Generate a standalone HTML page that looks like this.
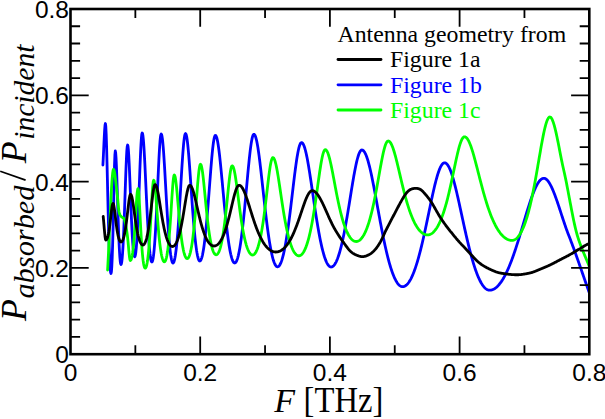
<!DOCTYPE html>
<html><head><meta charset="utf-8"><style>
html,body{margin:0;padding:0;background:#fff;width:605px;height:419px;overflow:hidden}
svg{display:block}
.sans{font-family:"Liberation Sans",sans-serif}
.serif{font-family:"Liberation Serif",serif}
</style></head><body>
<svg width="605" height="419" viewBox="0 0 605 419">
<rect width="605" height="419" fill="#fff"/>
<defs><clipPath id="c"><rect x="70.5" y="9.0" width="518.8" height="345.2"/></clipPath></defs>
<g clip-path="url(#c)" fill="none" stroke-width="2.8" stroke-linejoin="round" stroke-linecap="round">
<path stroke="#0000ff" d="M102.90,165.00 L103.26,158.35 L103.61,150.72 L103.97,142.86 L104.33,135.48 L104.69,129.31 L105.04,125.07 L105.40,123.50 L105.80,126.30 L106.20,134.37 L106.60,146.77 L107.00,162.21 L107.40,179.29 L107.80,196.73 L108.20,213.50 L108.60,228.84 L109.00,242.25 L109.40,253.41 L109.80,262.18 L110.20,268.47 L110.60,272.24 L111.00,273.50 L111.39,271.83 L111.78,266.84 L112.17,258.55 L112.56,247.05 L112.95,232.64 L113.35,215.89 L113.74,197.86 L114.13,180.19 L114.52,165.03 L114.91,154.68 L115.30,151.00 L115.68,152.85 L116.06,158.20 L116.44,166.52 L116.82,177.01 L117.20,188.83 L117.58,201.16 L117.96,213.28 L118.34,224.68 L118.72,234.96 L119.10,243.86 L119.48,251.25 L119.86,257.04 L120.24,261.18 L120.62,263.67 L121.00,264.50 L121.39,263.82 L121.78,261.78 L122.16,258.38 L122.55,253.63 L122.94,247.55 L123.33,240.17 L123.72,231.58 L124.11,221.90 L124.49,211.31 L124.88,200.09 L125.27,188.63 L125.66,177.40 L126.05,166.96 L126.44,157.94 L126.82,150.95 L127.21,146.52 L127.60,145.00 L127.99,146.27 L128.39,149.98 L128.78,155.87 L129.18,163.53 L129.57,172.50 L129.97,182.27 L130.36,192.38 L130.76,202.43 L131.15,212.08 L131.54,221.09 L131.94,229.26 L132.33,236.47 L132.73,242.65 L133.12,247.73 L133.52,251.69 L133.91,254.53 L134.31,256.23 L134.70,256.80 L135.09,256.24 L135.49,254.54 L135.88,251.72 L136.28,247.78 L136.67,242.73 L137.07,236.58 L137.46,229.38 L137.86,221.19 L138.25,212.11 L138.65,202.29 L139.04,191.94 L139.44,181.32 L139.83,170.79 L140.23,160.73 L140.62,151.60 L141.02,143.86 L141.41,137.96 L141.81,134.26 L142.20,133.00 L142.59,133.76 L142.98,136.02 L143.36,139.68 L143.75,144.61 L144.14,150.64 L144.53,157.56 L144.92,165.16 L145.30,173.24 L145.69,181.58 L146.08,190.01 L146.47,198.35 L146.86,206.46 L147.24,214.24 L147.63,221.58 L148.02,228.42 L148.41,234.70 L148.80,240.37 L149.18,245.41 L149.57,249.79 L149.96,253.52 L150.35,256.57 L150.74,258.94 L151.12,260.64 L151.51,261.66 L151.90,262.00 L152.29,261.63 L152.68,260.54 L153.06,258.71 L153.45,256.15 L153.84,252.87 L154.22,248.86 L154.61,244.14 L155.00,238.73 L155.39,232.64 L155.78,225.92 L156.16,218.62 L156.55,210.80 L156.94,202.57 L157.32,194.03 L157.71,185.34 L158.10,176.67 L158.49,168.21 L158.88,160.20 L159.26,152.86 L159.65,146.44 L160.04,141.17 L160.42,137.24 L160.81,134.82 L161.20,134.00 L161.59,134.53 L161.99,136.10 L162.38,138.68 L162.77,142.19 L163.17,146.54 L163.56,151.64 L163.95,157.35 L164.35,163.57 L164.74,170.16 L165.13,177.00 L165.53,183.98 L165.92,191.01 L166.31,197.97 L166.71,204.79 L167.10,211.40 L167.49,217.74 L167.89,223.76 L168.28,229.42 L168.67,234.69 L169.07,239.55 L169.46,243.97 L169.85,247.94 L170.25,251.46 L170.64,254.52 L171.03,257.11 L171.43,259.23 L171.82,260.88 L172.21,262.06 L172.61,262.76 L173.00,263.00 L173.39,262.79 L173.78,262.17 L174.17,261.13 L174.56,259.67 L174.95,257.80 L175.34,255.52 L175.73,252.82 L176.12,249.72 L176.52,246.21 L176.91,242.30 L177.30,238.00 L177.69,233.32 L178.08,228.28 L178.47,222.90 L178.86,217.21 L179.25,211.24 L179.64,205.03 L180.03,198.63 L180.42,192.10 L180.81,185.50 L181.20,178.91 L181.59,172.42 L181.98,166.11 L182.38,160.09 L182.77,154.45 L183.16,149.29 L183.55,144.73 L183.94,140.85 L184.33,137.73 L184.72,135.46 L185.11,134.07 L185.50,133.60 L185.90,133.96 L186.29,135.05 L186.69,136.83 L187.09,139.28 L187.49,142.35 L187.88,145.99 L188.28,150.13 L188.68,154.72 L189.07,159.68 L189.47,164.93 L189.87,170.42 L190.27,176.07 L190.66,181.81 L191.06,187.59 L191.46,193.35 L191.86,199.04 L192.25,204.62 L192.65,210.04 L193.05,215.28 L193.44,220.30 L193.84,225.09 L194.24,229.62 L194.64,233.87 L195.03,237.84 L195.43,241.51 L195.83,244.87 L196.23,247.92 L196.62,250.66 L197.02,253.08 L197.42,255.18 L197.81,256.96 L198.21,258.41 L198.61,259.54 L199.01,260.35 L199.40,260.84 L199.80,261.00 L200.20,260.86 L200.60,260.46 L201.00,259.78 L201.40,258.83 L201.80,257.60 L202.20,256.11 L202.60,254.35 L203.00,252.31 L203.40,250.01 L203.80,247.44 L204.20,244.61 L204.60,241.51 L205.00,238.16 L205.40,234.56 L205.80,230.72 L206.20,226.65 L206.60,222.36 L207.00,217.86 L207.40,213.17 L207.80,208.31 L208.20,203.31 L208.60,198.20 L209.00,193.00 L209.40,187.75 L209.80,182.49 L210.20,177.27 L210.60,172.12 L211.00,167.11 L211.40,162.28 L211.80,157.69 L212.20,153.39 L212.60,149.44 L213.00,145.89 L213.40,142.79 L213.80,140.19 L214.20,138.12 L214.60,136.62 L215.00,135.71 L215.40,135.40 L215.79,135.60 L216.19,136.18 L216.58,137.16 L216.98,138.50 L217.37,140.21 L217.76,142.27 L218.16,144.65 L218.55,147.33 L218.94,150.29 L219.34,153.51 L219.73,156.94 L220.13,160.58 L220.52,164.39 L220.91,168.33 L221.31,172.39 L221.70,176.54 L222.10,180.74 L222.49,184.98 L222.88,189.24 L223.28,193.48 L223.67,197.70 L224.07,201.86 L224.46,205.96 L224.85,209.98 L225.25,213.91 L225.64,217.73 L226.03,221.43 L226.43,225.01 L226.82,228.45 L227.22,231.75 L227.61,234.90 L228.00,237.89 L228.40,240.73 L228.79,243.40 L229.19,245.91 L229.58,248.26 L229.97,250.43 L230.37,252.43 L230.76,254.26 L231.16,255.92 L231.55,257.41 L231.94,258.72 L232.34,259.85 L232.73,260.81 L233.12,261.60 L233.52,262.21 L233.91,262.65 L234.31,262.91 L234.70,263.00 L235.09,262.91 L235.48,262.65 L235.88,262.21 L236.27,261.59 L236.66,260.80 L237.05,259.83 L237.44,258.68 L237.83,257.36 L238.23,255.86 L238.62,254.19 L239.01,252.34 L239.40,250.32 L239.79,248.13 L240.19,245.77 L240.58,243.23 L240.97,240.54 L241.36,237.67 L241.75,234.65 L242.14,231.48 L242.54,228.15 L242.93,224.68 L243.32,221.07 L243.71,217.34 L244.10,213.49 L244.50,209.53 L244.89,205.47 L245.28,201.34 L245.67,197.13 L246.06,192.88 L246.46,188.60 L246.85,184.31 L247.24,180.03 L247.63,175.79 L248.02,171.61 L248.41,167.52 L248.81,163.54 L249.20,159.70 L249.59,156.03 L249.98,152.56 L250.37,149.32 L250.77,146.33 L251.16,143.63 L251.55,141.23 L251.94,139.16 L252.33,137.43 L252.72,136.07 L253.12,135.09 L253.51,134.50 L253.90,134.30 L254.30,134.44 L254.70,134.86 L255.10,135.56 L255.50,136.53 L255.90,137.77 L256.30,139.27 L256.70,141.01 L257.10,142.99 L257.50,145.19 L257.90,147.60 L258.30,150.20 L258.70,152.98 L259.10,155.93 L259.50,159.02 L259.90,162.24 L260.30,165.57 L260.70,168.99 L261.10,172.50 L261.50,176.06 L261.90,179.68 L262.30,183.32 L262.70,186.99 L263.10,190.65 L263.50,194.31 L263.90,197.95 L264.30,201.56 L264.70,205.13 L265.10,208.64 L265.50,212.10 L265.90,215.48 L266.30,218.79 L266.70,222.02 L267.10,225.16 L267.50,228.21 L267.90,231.16 L268.30,234.00 L268.70,236.74 L269.10,239.38 L269.50,241.89 L269.90,244.30 L270.30,246.59 L270.70,248.76 L271.10,250.81 L271.50,252.74 L271.90,254.54 L272.30,256.23 L272.70,257.79 L273.10,259.23 L273.50,260.54 L273.90,261.73 L274.30,262.79 L274.70,263.73 L275.10,264.55 L275.50,265.23 L275.90,265.80 L276.30,266.24 L276.70,266.55 L277.10,266.74 L277.50,266.80 L277.90,266.74 L278.30,266.57 L278.70,266.29 L279.10,265.89 L279.50,265.38 L279.90,264.76 L280.30,264.02 L280.70,263.17 L281.10,262.20 L281.50,261.13 L281.90,259.94 L282.30,258.63 L282.70,257.22 L283.10,255.69 L283.50,254.05 L283.90,252.30 L284.30,250.44 L284.70,248.48 L285.10,246.40 L285.50,244.22 L285.90,241.93 L286.30,239.54 L286.70,237.06 L287.10,234.47 L287.50,231.79 L287.90,229.02 L288.30,226.16 L288.70,223.22 L289.10,220.21 L289.50,217.12 L289.90,213.97 L290.30,210.76 L290.70,207.49 L291.10,204.19 L291.50,200.85 L291.90,197.48 L292.30,194.11 L292.70,190.72 L293.10,187.35 L293.50,184.00 L293.90,180.68 L294.30,177.41 L294.70,174.20 L295.10,171.07 L295.50,168.02 L295.90,165.08 L296.30,162.26 L296.70,159.58 L297.10,157.05 L297.50,154.68 L297.90,152.48 L298.30,150.48 L298.70,148.69 L299.10,147.10 L299.50,145.75 L299.90,144.62 L300.30,143.74 L300.70,143.11 L301.10,142.73 L301.50,142.60 L301.89,142.68 L302.29,142.93 L302.68,143.33 L303.08,143.90 L303.47,144.63 L303.87,145.51 L304.26,146.54 L304.66,147.72 L305.05,149.04 L305.45,150.50 L305.84,152.08 L306.24,153.79 L306.63,155.62 L307.03,157.56 L307.42,159.61 L307.81,161.75 L308.21,163.97 L308.60,166.28 L309.00,168.66 L309.39,171.11 L309.79,173.62 L310.18,176.17 L310.58,178.77 L310.97,181.40 L311.37,184.07 L311.76,186.75 L312.16,189.45 L312.55,192.16 L312.95,194.87 L313.34,197.57 L313.73,200.27 L314.13,202.95 L314.52,205.62 L314.92,208.25 L315.31,210.87 L315.71,213.44 L316.10,215.98 L316.50,218.49 L316.89,220.94 L317.29,223.35 L317.68,225.72 L318.08,228.02 L318.47,230.28 L318.87,232.48 L319.26,234.62 L319.65,236.70 L320.05,238.71 L320.44,240.67 L320.84,242.56 L321.23,244.38 L321.63,246.14 L322.02,247.83 L322.42,249.45 L322.81,251.00 L323.21,252.48 L323.60,253.89 L324.00,255.23 L324.39,256.50 L324.79,257.70 L325.18,258.82 L325.57,259.87 L325.97,260.85 L326.36,261.76 L326.76,262.60 L327.15,263.36 L327.55,264.05 L327.94,264.67 L328.34,265.22 L328.73,265.69 L329.13,266.09 L329.52,266.42 L329.92,266.67 L330.31,266.85 L330.71,266.96 L331.10,267.00 L331.50,266.97 L331.90,266.87 L332.30,266.71 L332.70,266.48 L333.10,266.19 L333.50,265.83 L333.90,265.41 L334.30,264.92 L334.70,264.37 L335.10,263.75 L335.50,263.07 L335.90,262.33 L336.30,261.52 L336.70,260.64 L337.10,259.70 L337.50,258.70 L337.90,257.63 L338.30,256.50 L338.70,255.30 L339.10,254.04 L339.50,252.72 L339.90,251.33 L340.30,249.89 L340.70,248.38 L341.10,246.81 L341.50,245.18 L341.90,243.49 L342.30,241.74 L342.70,239.93 L343.10,238.07 L343.50,236.16 L343.90,234.19 L344.30,232.16 L344.70,230.09 L345.10,227.97 L345.50,225.80 L345.90,223.59 L346.30,221.34 L346.70,219.05 L347.10,216.72 L347.50,214.36 L347.90,211.97 L348.30,209.56 L348.70,207.12 L349.10,204.67 L349.50,202.20 L349.90,199.72 L350.30,197.24 L350.70,194.76 L351.10,192.28 L351.50,189.82 L351.90,187.37 L352.30,184.95 L352.70,182.55 L353.10,180.20 L353.50,177.88 L353.90,175.61 L354.30,173.40 L354.70,171.25 L355.10,169.17 L355.50,167.16 L355.90,165.24 L356.30,163.40 L356.70,161.66 L357.10,160.01 L357.50,158.48 L357.90,157.06 L358.30,155.75 L358.70,154.57 L359.10,153.52 L359.50,152.60 L359.90,151.81 L360.30,151.16 L360.70,150.66 L361.10,150.29 L361.50,150.07 L361.90,150.00 L362.30,150.05 L362.70,150.19 L363.10,150.44 L363.50,150.78 L363.90,151.21 L364.29,151.74 L364.69,152.36 L365.09,153.07 L365.49,153.88 L365.89,154.77 L366.29,155.75 L366.69,156.81 L367.09,157.95 L367.49,159.17 L367.89,160.47 L368.28,161.85 L368.68,163.29 L369.08,164.80 L369.48,166.38 L369.88,168.02 L370.28,169.71 L370.68,171.46 L371.08,173.27 L371.48,175.12 L371.88,177.02 L372.27,178.95 L372.67,180.93 L373.07,182.94 L373.47,184.99 L373.87,187.06 L374.27,189.16 L374.67,191.27 L375.07,193.41 L375.47,195.57 L375.87,197.73 L376.26,199.91 L376.66,202.09 L377.06,204.28 L377.46,206.47 L377.86,208.66 L378.26,210.84 L378.66,213.02 L379.06,215.19 L379.46,217.36 L379.86,219.50 L380.25,221.64 L380.65,223.75 L381.05,225.85 L381.45,227.93 L381.85,229.99 L382.25,232.02 L382.65,234.03 L383.05,236.01 L383.45,237.96 L383.85,239.89 L384.25,241.79 L384.64,243.65 L385.04,245.48 L385.44,247.28 L385.84,249.04 L386.24,250.77 L386.64,252.47 L387.04,254.13 L387.44,255.75 L387.84,257.33 L388.24,258.87 L388.63,260.38 L389.03,261.85 L389.43,263.27 L389.83,264.66 L390.23,266.00 L390.63,267.31 L391.03,268.57 L391.43,269.80 L391.83,270.98 L392.23,272.12 L392.62,273.21 L393.02,274.27 L393.42,275.28 L393.82,276.25 L394.22,277.18 L394.62,278.06 L395.02,278.90 L395.42,279.70 L395.82,280.46 L396.22,281.17 L396.61,281.84 L397.01,282.46 L397.41,283.05 L397.81,283.59 L398.21,284.08 L398.61,284.54 L399.01,284.95 L399.41,285.32 L399.81,285.64 L400.21,285.92 L400.60,286.16 L401.00,286.35 L401.40,286.51 L401.80,286.61 L402.20,286.68 L402.60,286.70 L403.00,286.68 L403.40,286.63 L403.80,286.53 L404.20,286.40 L404.60,286.24 L405.00,286.03 L405.40,285.79 L405.80,285.52 L406.20,285.20 L406.60,284.85 L407.00,284.46 L407.40,284.04 L407.80,283.58 L408.20,283.08 L408.60,282.54 L409.00,281.97 L409.40,281.36 L409.80,280.71 L410.20,280.03 L410.60,279.31 L411.00,278.55 L411.40,277.76 L411.80,276.93 L412.20,276.06 L412.60,275.16 L413.00,274.22 L413.40,273.25 L413.80,272.24 L414.20,271.19 L414.60,270.11 L415.00,268.99 L415.40,267.84 L415.80,266.65 L416.20,265.43 L416.60,264.17 L417.00,262.88 L417.40,261.56 L417.80,260.20 L418.20,258.81 L418.60,257.39 L419.00,255.93 L419.40,254.45 L419.80,252.93 L420.20,251.39 L420.60,249.81 L421.00,248.21 L421.40,246.57 L421.80,244.91 L422.20,243.23 L422.60,241.52 L423.00,239.78 L423.40,238.03 L423.80,236.25 L424.20,234.45 L424.60,232.63 L425.00,230.79 L425.40,228.94 L425.80,227.07 L426.20,225.18 L426.60,223.29 L427.00,221.38 L427.40,219.47 L427.80,217.55 L428.20,215.63 L428.60,213.70 L429.00,211.77 L429.40,209.85 L429.80,207.92 L430.20,206.01 L430.60,204.10 L431.00,202.20 L431.40,200.32 L431.80,198.45 L432.20,196.60 L432.60,194.78 L433.00,192.97 L433.40,191.20 L433.80,189.45 L434.20,187.73 L434.60,186.05 L435.00,184.41 L435.40,182.81 L435.80,181.25 L436.20,179.74 L436.60,178.27 L437.00,176.86 L437.40,175.50 L437.80,174.20 L438.20,172.96 L438.60,171.78 L439.00,170.66 L439.40,169.61 L439.80,168.63 L440.20,167.72 L440.60,166.88 L441.00,166.12 L441.40,165.43 L441.80,164.82 L442.20,164.29 L442.60,163.84 L443.00,163.46 L443.40,163.17 L443.80,162.97 L444.20,162.84 L444.60,162.80 L445.00,162.84 L445.40,162.95 L445.79,163.13 L446.19,163.39 L446.59,163.72 L446.99,164.12 L447.39,164.60 L447.79,165.14 L448.18,165.75 L448.58,166.43 L448.98,167.18 L449.38,168.00 L449.78,168.87 L450.18,169.82 L450.57,170.82 L450.97,171.88 L451.37,173.00 L451.77,174.17 L452.17,175.39 L452.56,176.67 L452.96,178.00 L453.36,179.37 L453.76,180.79 L454.16,182.25 L454.56,183.75 L454.95,185.29 L455.35,186.86 L455.75,188.47 L456.15,190.11 L456.55,191.77 L456.95,193.47 L457.34,195.19 L457.74,196.93 L458.14,198.68 L458.54,200.46 L458.94,202.25 L459.33,204.06 L459.73,205.87 L460.13,207.70 L460.53,209.53 L460.93,211.37 L461.33,213.21 L461.72,215.05 L462.12,216.89 L462.52,218.73 L462.92,220.57 L463.32,222.40 L463.72,224.22 L464.11,226.03 L464.51,227.84 L464.91,229.63 L465.31,231.41 L465.71,233.18 L466.10,234.93 L466.50,236.67 L466.90,238.39 L467.30,240.09 L467.70,241.77 L468.10,243.43 L468.49,245.07 L468.89,246.68 L469.29,248.28 L469.69,249.85 L470.09,251.40 L470.48,252.92 L470.88,254.41 L471.28,255.88 L471.68,257.32 L472.08,258.74 L472.48,260.13 L472.87,261.48 L473.27,262.81 L473.67,264.12 L474.07,265.39 L474.47,266.63 L474.87,267.84 L475.26,269.02 L475.66,270.17 L476.06,271.29 L476.46,272.38 L476.86,273.44 L477.25,274.47 L477.65,275.46 L478.05,276.42 L478.45,277.35 L478.85,278.25 L479.25,279.12 L479.64,279.95 L480.04,280.75 L480.44,281.52 L480.84,282.26 L481.24,282.97 L481.64,283.64 L482.03,284.28 L482.43,284.88 L482.83,285.46 L483.23,286.00 L483.63,286.51 L484.02,286.98 L484.42,287.43 L484.82,287.84 L485.22,288.21 L485.62,288.56 L486.02,288.87 L486.41,289.15 L486.81,289.40 L487.21,289.61 L487.61,289.79 L488.01,289.94 L488.41,290.05 L488.80,290.13 L489.20,290.18 L489.60,290.20 L490.00,290.19 L490.40,290.16 L490.80,290.11 L491.20,290.04 L491.60,289.95 L492.00,289.84 L492.39,289.71 L492.79,289.56 L493.19,289.39 L493.59,289.20 L493.99,289.00 L494.39,288.77 L494.79,288.52 L495.19,288.25 L495.59,287.96 L495.99,287.65 L496.39,287.32 L496.79,286.98 L497.19,286.61 L497.59,286.22 L497.98,285.81 L498.38,285.38 L498.78,284.94 L499.18,284.47 L499.58,283.98 L499.98,283.48 L500.38,282.95 L500.78,282.40 L501.18,281.84 L501.58,281.25 L501.98,280.65 L502.38,280.02 L502.78,279.38 L503.18,278.71 L503.57,278.03 L503.97,277.33 L504.37,276.61 L504.77,275.87 L505.17,275.11 L505.57,274.33 L505.97,273.53 L506.37,272.71 L506.77,271.88 L507.17,271.02 L507.57,270.15 L507.97,269.26 L508.37,268.35 L508.76,267.42 L509.16,266.48 L509.56,265.51 L509.96,264.53 L510.36,263.54 L510.76,262.52 L511.16,261.49 L511.56,260.44 L511.96,259.38 L512.36,258.30 L512.76,257.20 L513.16,256.09 L513.56,254.96 L513.96,253.82 L514.35,252.66 L514.75,251.49 L515.15,250.31 L515.55,249.11 L515.95,247.90 L516.35,246.67 L516.75,245.44 L517.15,244.19 L517.55,242.94 L517.95,241.67 L518.35,240.39 L518.75,239.10 L519.15,237.81 L519.54,236.50 L519.94,235.19 L520.34,233.88 L520.74,232.55 L521.14,231.22 L521.54,229.89 L521.94,228.55 L522.34,227.21 L522.74,225.87 L523.14,224.53 L523.54,223.18 L523.94,221.84 L524.34,220.50 L524.74,219.16 L525.13,217.82 L525.53,216.49 L525.93,215.16 L526.33,213.84 L526.73,212.52 L527.13,211.22 L527.53,209.92 L527.93,208.64 L528.33,207.36 L528.73,206.10 L529.13,204.85 L529.53,203.62 L529.93,202.40 L530.33,201.20 L530.72,200.02 L531.12,198.86 L531.52,197.72 L531.92,196.60 L532.32,195.51 L532.72,194.44 L533.12,193.39 L533.52,192.37 L533.92,191.38 L534.32,190.42 L534.72,189.48 L535.12,188.58 L535.52,187.71 L535.91,186.87 L536.31,186.07 L536.71,185.30 L537.11,184.57 L537.51,183.87 L537.91,183.21 L538.31,182.59 L538.71,182.01 L539.11,181.47 L539.51,180.97 L539.91,180.51 L540.31,180.10 L540.71,179.72 L541.11,179.39 L541.50,179.10 L541.90,178.86 L542.30,178.66 L542.70,178.50 L543.10,178.39 L543.50,178.32 L543.90,178.30 L544.30,178.33 L544.70,178.41 L545.10,178.55 L545.49,178.74 L545.89,178.97 L546.29,179.26 L546.69,179.60 L547.09,179.99 L547.49,180.42 L547.88,180.89 L548.28,181.41 L548.68,181.97 L549.08,182.57 L549.48,183.21 L549.88,183.89 L550.27,184.61 L550.67,185.36 L551.07,186.14 L551.47,186.96 L551.87,187.81 L552.27,188.69 L552.66,189.60 L553.06,190.54 L553.46,191.50 L553.86,192.49 L554.26,193.50 L554.66,194.54 L555.05,195.59 L555.45,196.67 L555.85,197.76 L556.25,198.88 L556.65,200.01 L557.05,201.15 L557.45,202.31 L557.84,203.48 L558.24,204.66 L558.64,205.85 L559.04,207.05 L559.44,208.25 L559.84,209.46 L560.23,210.68 L560.63,211.90 L561.03,213.12 L561.43,214.34 L561.83,215.57 L562.23,216.79 L562.62,218.00 L563.02,219.22 L563.42,220.42 L563.82,221.62 L564.22,222.81 L564.62,224.00 L565.01,225.17 L565.41,226.32 L565.81,227.47 L566.21,228.60 L566.61,229.71 L567.01,230.81 L567.40,231.89 L567.80,232.95 L568.20,233.99 L568.60,235.00 L569.00,236.01 L569.40,237.02 L569.79,238.04 L570.19,239.07 L570.59,240.11 L570.99,241.15 L571.39,242.20 L571.78,243.26 L572.18,244.33 L572.58,245.40 L572.98,246.47 L573.38,247.55 L573.77,248.64 L574.17,249.73 L574.57,250.83 L574.97,251.93 L575.37,253.04 L575.77,254.15 L576.16,255.26 L576.56,256.38 L576.96,257.50 L577.36,258.63 L577.76,259.75 L578.15,260.88 L578.55,262.02 L578.95,263.15 L579.35,264.29 L579.75,265.43 L580.14,266.57 L580.54,267.71 L580.94,268.86 L581.34,270.00 L581.74,271.14 L582.13,272.29 L582.53,273.43 L582.93,274.58 L583.33,275.73 L583.73,276.87 L584.12,278.01 L584.52,279.16 L584.92,280.30 L585.32,281.44 L585.72,282.58 L586.12,283.71 L586.51,284.85 L586.91,285.98 L587.31,287.11 L587.71,288.23 L588.11,289.35 L588.50,290.47 L588.90,291.59 L589.30,292.70"/>
<path stroke="#00ff00" d="M107.60,270.00 L107.99,262.87 L108.39,255.02 L108.78,246.64 L109.17,237.90 L109.57,228.97 L109.96,220.05 L110.35,211.31 L110.75,202.93 L111.14,195.08 L111.53,187.95 L111.93,181.71 L112.32,176.55 L112.71,172.64 L113.11,170.17 L113.50,169.30 L113.88,169.75 L114.26,171.03 L114.64,172.99 L115.02,175.51 L115.40,178.46 L115.78,181.70 L116.16,185.10 L116.54,188.54 L116.92,191.89 L117.30,195.00 L117.70,198.72 L118.10,203.16 L118.50,207.57 L118.90,211.20 L119.30,213.30 L119.67,214.20 L120.03,214.94 L120.40,215.53 L120.77,216.02 L121.13,216.44 L121.50,216.80 L121.86,217.09 L122.21,217.32 L122.57,217.50 L122.93,217.68 L123.29,217.88 L123.64,218.15 L124.00,218.50 L124.38,219.28 L124.75,220.61 L125.12,222.25 L125.50,224.00 L125.86,225.79 L126.22,227.83 L126.58,230.08 L126.94,232.48 L127.30,235.00 L127.67,238.14 L128.05,241.98 L128.43,246.19 L128.80,250.42 L129.18,254.31 L129.55,257.52 L129.93,259.70 L130.30,260.50 L130.69,260.30 L131.07,259.69 L131.46,258.66 L131.84,257.21 L132.23,255.30 L132.61,252.91 L133.00,250.02 L133.38,246.59 L133.77,242.60 L134.15,238.03 L134.53,232.90 L134.92,227.23 L135.31,221.13 L135.69,214.74 L136.07,208.30 L136.46,202.15 L136.84,196.69 L137.23,192.36 L137.62,189.57 L138.00,188.60 L138.40,189.92 L138.80,193.70 L139.20,199.46 L139.60,206.56 L140.00,214.36 L140.40,222.28 L140.80,229.91 L141.20,236.97 L141.60,243.32 L142.00,248.90 L142.40,253.69 L142.80,257.73 L143.20,261.04 L143.60,263.68 L144.00,265.68 L144.40,267.09 L144.80,267.92 L145.20,268.20 L145.59,268.00 L145.97,267.38 L146.36,266.35 L146.75,264.89 L147.13,262.97 L147.52,260.59 L147.90,257.71 L148.29,254.31 L148.68,250.36 L149.06,245.83 L149.45,240.73 L149.84,235.05 L150.22,228.83 L150.61,222.15 L151.00,215.12 L151.38,207.95 L151.77,200.90 L152.15,194.31 L152.54,188.59 L152.93,184.12 L153.31,181.28 L153.70,180.30 L154.10,180.90 L154.49,182.68 L154.89,185.52 L155.29,189.26 L155.68,193.72 L156.08,198.69 L156.47,203.97 L156.87,209.38 L157.27,214.78 L157.66,220.04 L158.06,225.08 L158.46,229.83 L158.85,234.25 L159.25,238.32 L159.64,242.04 L160.04,245.40 L160.44,248.41 L160.83,251.08 L161.23,253.42 L161.63,255.44 L162.02,257.17 L162.42,258.61 L162.81,259.77 L163.21,260.66 L163.61,261.30 L164.00,261.67 L164.40,261.80 L164.80,261.64 L165.19,261.17 L165.59,260.39 L165.98,259.27 L166.38,257.83 L166.78,256.03 L167.17,253.86 L167.57,251.32 L167.96,248.37 L168.36,245.00 L168.76,241.20 L169.15,236.96 L169.55,232.28 L169.94,227.16 L170.34,221.64 L170.74,215.78 L171.13,209.66 L171.53,203.43 L171.92,197.26 L172.32,191.36 L172.72,185.99 L173.11,181.43 L173.51,177.94 L173.90,175.75 L174.30,175.00 L174.69,175.42 L175.08,176.64 L175.47,178.64 L175.86,181.32 L176.25,184.58 L176.65,188.33 L177.04,192.44 L177.43,196.79 L177.82,201.29 L178.21,205.85 L178.60,210.37 L178.99,214.80 L179.38,219.08 L179.77,223.18 L180.16,227.07 L180.55,230.73 L180.95,234.15 L181.34,237.33 L181.73,240.26 L182.12,242.94 L182.51,245.39 L182.90,247.60 L183.29,249.59 L183.68,251.36 L184.07,252.92 L184.46,254.28 L184.85,255.45 L185.25,256.42 L185.64,257.21 L186.03,257.82 L186.42,258.25 L186.81,258.51 L187.20,258.60 L187.59,258.51 L187.98,258.23 L188.37,257.77 L188.76,257.13 L189.16,256.29 L189.55,255.25 L189.94,254.02 L190.33,252.58 L190.72,250.92 L191.11,249.05 L191.50,246.95 L191.89,244.61 L192.29,242.02 L192.68,239.19 L193.07,236.10 L193.46,232.74 L193.85,229.13 L194.24,225.26 L194.63,221.13 L195.02,216.77 L195.41,212.20 L195.81,207.45 L196.20,202.55 L196.59,197.58 L196.98,192.61 L197.37,187.71 L197.76,182.99 L198.15,178.56 L198.54,174.53 L198.94,171.03 L199.33,168.17 L199.72,166.05 L200.11,164.74 L200.50,164.30 L200.90,164.62 L201.30,165.58 L201.70,167.14 L202.10,169.27 L202.50,171.90 L202.90,174.97 L203.30,178.40 L203.70,182.12 L204.10,186.05 L204.50,190.13 L204.90,194.28 L205.30,198.45 L205.70,202.59 L206.10,206.66 L206.50,210.61 L206.90,214.44 L207.30,218.11 L207.70,221.61 L208.10,224.93 L208.50,228.06 L208.90,231.00 L209.30,233.75 L209.70,236.32 L210.10,238.69 L210.50,240.88 L210.90,242.89 L211.30,244.73 L211.70,246.40 L212.10,247.90 L212.50,249.25 L212.90,250.44 L213.30,251.48 L213.70,252.37 L214.10,253.12 L214.50,253.73 L214.90,254.20 L215.30,254.53 L215.70,254.73 L216.10,254.80 L216.49,254.74 L216.89,254.56 L217.28,254.26 L217.67,253.85 L218.06,253.30 L218.46,252.64 L218.85,251.85 L219.24,250.92 L219.63,249.87 L220.03,248.68 L220.42,247.35 L220.81,245.88 L221.20,244.25 L221.60,242.48 L221.99,240.55 L222.38,238.46 L222.78,236.21 L223.17,233.78 L223.56,231.19 L223.95,228.43 L224.35,225.50 L224.74,222.40 L225.13,219.15 L225.52,215.74 L225.92,212.18 L226.31,208.51 L226.70,204.73 L227.10,200.88 L227.49,196.98 L227.88,193.09 L228.27,189.23 L228.67,185.47 L229.06,181.87 L229.45,178.48 L229.84,175.37 L230.24,172.60 L230.63,170.24 L231.02,168.34 L231.41,166.94 L231.81,166.09 L232.20,165.80 L232.59,165.98 L232.98,166.51 L233.38,167.39 L233.77,168.60 L234.16,170.13 L234.55,171.94 L234.95,174.01 L235.34,176.32 L235.73,178.82 L236.12,181.50 L236.52,184.32 L236.91,187.24 L237.30,190.24 L237.69,193.30 L238.08,196.38 L238.48,199.46 L238.87,202.52 L239.26,205.55 L239.65,208.53 L240.05,211.45 L240.44,214.29 L240.83,217.05 L241.22,219.72 L241.62,222.29 L242.01,224.76 L242.40,227.12 L242.79,229.39 L243.18,231.55 L243.58,233.60 L243.97,235.54 L244.36,237.38 L244.75,239.12 L245.15,240.76 L245.54,242.29 L245.93,243.73 L246.32,245.07 L246.72,246.32 L247.11,247.48 L247.50,248.55 L247.89,249.53 L248.28,250.42 L248.68,251.23 L249.07,251.96 L249.46,252.60 L249.85,253.17 L250.25,253.66 L250.64,254.07 L251.03,254.41 L251.42,254.67 L251.82,254.85 L252.21,254.96 L252.60,255.00 L253.00,254.96 L253.40,254.83 L253.79,254.62 L254.19,254.33 L254.59,253.94 L254.99,253.48 L255.39,252.92 L255.78,252.28 L256.18,251.54 L256.58,250.72 L256.98,249.80 L257.38,248.78 L257.77,247.67 L258.17,246.45 L258.57,245.13 L258.97,243.71 L259.37,242.18 L259.76,240.55 L260.16,238.80 L260.56,236.93 L260.96,234.95 L261.36,232.85 L261.75,230.63 L262.15,228.29 L262.55,225.84 L262.95,223.26 L263.35,220.56 L263.75,217.75 L264.14,214.83 L264.54,211.80 L264.94,208.67 L265.34,205.46 L265.74,202.16 L266.13,198.81 L266.53,195.41 L266.93,191.98 L267.33,188.55 L267.73,185.14 L268.12,181.78 L268.52,178.50 L268.92,175.34 L269.32,172.32 L269.72,169.50 L270.11,166.90 L270.51,164.55 L270.91,162.50 L271.31,160.78 L271.71,159.41 L272.10,158.41 L272.50,157.80 L272.90,157.60 L273.30,157.73 L273.70,158.10 L274.10,158.73 L274.50,159.59 L274.90,160.69 L275.30,162.00 L275.70,163.52 L276.10,165.24 L276.50,167.13 L276.90,169.18 L277.30,171.37 L277.70,173.69 L278.10,176.11 L278.50,178.62 L278.90,181.20 L279.30,183.84 L279.70,186.52 L280.10,189.23 L280.50,191.94 L280.90,194.65 L281.30,197.36 L281.70,200.04 L282.10,202.68 L282.50,205.29 L282.90,207.85 L283.30,210.36 L283.70,212.82 L284.10,215.21 L284.50,217.53 L284.90,219.79 L285.30,221.97 L285.70,224.08 L286.10,226.12 L286.50,228.09 L286.90,229.98 L287.30,231.79 L287.70,233.54 L288.10,235.20 L288.50,236.80 L288.90,238.32 L289.30,239.77 L289.70,241.15 L290.10,242.46 L290.50,243.70 L290.90,244.87 L291.30,245.98 L291.70,247.02 L292.10,248.00 L292.50,248.92 L292.90,249.77 L293.30,250.57 L293.70,251.30 L294.10,251.98 L294.50,252.60 L294.90,253.16 L295.30,253.67 L295.70,254.12 L296.10,254.51 L296.50,254.86 L296.90,255.15 L297.30,255.38 L297.70,255.57 L298.10,255.70 L298.50,255.77 L298.90,255.80 L299.29,255.77 L299.69,255.69 L300.08,255.56 L300.48,255.38 L300.87,255.14 L301.26,254.84 L301.66,254.49 L302.05,254.09 L302.45,253.63 L302.84,253.12 L303.23,252.55 L303.63,251.92 L304.02,251.23 L304.42,250.49 L304.81,249.68 L305.20,248.81 L305.60,247.89 L305.99,246.89 L306.39,245.84 L306.78,244.72 L307.17,243.53 L307.57,242.27 L307.96,240.95 L308.36,239.55 L308.75,238.09 L309.14,236.55 L309.54,234.94 L309.93,233.26 L310.33,231.50 L310.72,229.66 L311.11,227.75 L311.51,225.77 L311.90,223.70 L312.30,221.57 L312.69,219.35 L313.09,217.07 L313.48,214.71 L313.87,212.28 L314.27,209.79 L314.66,207.23 L315.06,204.61 L315.45,201.94 L315.84,199.22 L316.24,196.45 L316.63,193.65 L317.03,190.83 L317.42,187.99 L317.81,185.14 L318.21,182.30 L318.60,179.48 L319.00,176.69 L319.39,173.94 L319.78,171.27 L320.18,168.67 L320.57,166.17 L320.97,163.78 L321.36,161.53 L321.75,159.43 L322.15,157.49 L322.54,155.74 L322.94,154.18 L323.33,152.84 L323.72,151.73 L324.12,150.85 L324.51,150.21 L324.91,149.83 L325.30,149.70 L325.70,149.78 L326.09,150.03 L326.49,150.43 L326.88,151.00 L327.28,151.72 L327.68,152.58 L328.07,153.59 L328.47,154.74 L328.87,156.02 L329.26,157.41 L329.66,158.92 L330.05,160.52 L330.45,162.22 L330.85,164.00 L331.24,165.86 L331.64,167.78 L332.03,169.75 L332.43,171.77 L332.83,173.82 L333.22,175.90 L333.62,178.00 L334.02,180.11 L334.41,182.23 L334.81,184.34 L335.20,186.45 L335.60,188.54 L336.00,190.61 L336.39,192.66 L336.79,194.69 L337.18,196.68 L337.58,198.64 L337.98,200.56 L338.37,202.44 L338.77,204.28 L339.17,206.08 L339.56,207.83 L339.96,209.54 L340.35,211.20 L340.75,212.81 L341.15,214.38 L341.54,215.89 L341.94,217.36 L342.33,218.78 L342.73,220.15 L343.13,221.47 L343.52,222.75 L343.92,223.98 L344.32,225.16 L344.71,226.29 L345.11,227.38 L345.50,228.42 L345.90,229.42 L346.30,230.37 L346.69,231.28 L347.09,232.15 L347.48,232.98 L347.88,233.76 L348.28,234.50 L348.67,235.20 L349.07,235.87 L349.47,236.49 L349.86,237.07 L350.26,237.62 L350.65,238.13 L351.05,238.60 L351.45,239.03 L351.84,239.43 L352.24,239.79 L352.63,240.12 L353.03,240.41 L353.43,240.67 L353.82,240.89 L354.22,241.08 L354.62,241.23 L355.01,241.35 L355.41,241.43 L355.80,241.48 L356.20,241.50 L356.60,241.48 L357.00,241.43 L357.40,241.34 L357.80,241.22 L358.20,241.06 L358.60,240.86 L359.00,240.63 L359.40,240.37 L359.80,240.06 L360.20,239.72 L360.60,239.35 L361.00,238.93 L361.40,238.48 L361.80,237.99 L362.20,237.47 L362.60,236.90 L363.00,236.29 L363.40,235.64 L363.80,234.96 L364.20,234.23 L364.60,233.46 L365.00,232.65 L365.40,231.79 L365.80,230.89 L366.20,229.95 L366.60,228.96 L367.00,227.93 L367.40,226.85 L367.80,225.72 L368.20,224.55 L368.60,223.32 L369.00,222.05 L369.40,220.73 L369.80,219.36 L370.20,217.94 L370.60,216.47 L371.00,214.96 L371.40,213.39 L371.80,211.76 L372.20,210.09 L372.60,208.37 L373.00,206.60 L373.40,204.78 L373.80,202.92 L374.20,201.00 L374.60,199.05 L375.00,197.04 L375.40,195.00 L375.80,192.92 L376.20,190.80 L376.60,188.65 L377.00,186.47 L377.40,184.26 L377.80,182.03 L378.20,179.79 L378.60,177.53 L379.00,175.28 L379.40,173.02 L379.80,170.77 L380.20,168.54 L380.60,166.33 L381.00,164.16 L381.40,162.02 L381.80,159.94 L382.20,157.92 L382.60,155.97 L383.00,154.09 L383.40,152.31 L383.80,150.62 L384.20,149.05 L384.60,147.59 L385.00,146.26 L385.40,145.06 L385.80,144.00 L386.20,143.10 L386.60,142.35 L387.00,141.76 L387.40,141.34 L387.80,141.09 L388.20,141.00 L388.60,141.05 L389.00,141.21 L389.39,141.47 L389.79,141.83 L390.19,142.29 L390.59,142.85 L390.99,143.50 L391.38,144.25 L391.78,145.08 L392.18,146.01 L392.58,147.01 L392.98,148.09 L393.37,149.25 L393.77,150.47 L394.17,151.76 L394.57,153.11 L394.97,154.52 L395.36,155.97 L395.76,157.47 L396.16,159.01 L396.56,160.58 L396.96,162.19 L397.35,163.82 L397.75,165.48 L398.15,167.15 L398.55,168.84 L398.95,170.53 L399.34,172.24 L399.74,173.94 L400.14,175.65 L400.54,177.35 L400.94,179.04 L401.33,180.73 L401.73,182.40 L402.13,184.06 L402.53,185.70 L402.93,187.33 L403.32,188.93 L403.72,190.52 L404.12,192.08 L404.52,193.61 L404.92,195.12 L405.31,196.61 L405.71,198.06 L406.11,199.49 L406.51,200.89 L406.91,202.26 L407.30,203.60 L407.70,204.91 L408.10,206.19 L408.50,207.44 L408.89,208.66 L409.29,209.85 L409.69,211.01 L410.09,212.13 L410.49,213.23 L410.88,214.30 L411.28,215.33 L411.68,216.34 L412.08,217.31 L412.48,218.26 L412.87,219.17 L413.27,220.06 L413.67,220.92 L414.07,221.74 L414.47,222.54 L414.86,223.32 L415.26,224.06 L415.66,224.78 L416.06,225.47 L416.46,226.13 L416.85,226.77 L417.25,227.38 L417.65,227.96 L418.05,228.52 L418.45,229.06 L418.84,229.57 L419.24,230.05 L419.64,230.51 L420.04,230.95 L420.44,231.36 L420.83,231.75 L421.23,232.11 L421.63,232.45 L422.03,232.77 L422.43,233.07 L422.82,233.34 L423.22,233.59 L423.62,233.82 L424.02,234.03 L424.42,234.21 L424.81,234.37 L425.21,234.51 L425.61,234.63 L426.01,234.73 L426.41,234.80 L426.80,234.86 L427.20,234.89 L427.60,234.90 L428.00,234.89 L428.39,234.85 L428.79,234.79 L429.19,234.70 L429.58,234.58 L429.98,234.44 L430.38,234.27 L430.77,234.08 L431.17,233.86 L431.57,233.62 L431.96,233.35 L432.36,233.05 L432.76,232.73 L433.15,232.38 L433.55,232.00 L433.95,231.59 L434.35,231.16 L434.74,230.70 L435.14,230.21 L435.54,229.69 L435.93,229.14 L436.33,228.57 L436.73,227.96 L437.12,227.32 L437.52,226.66 L437.92,225.96 L438.31,225.23 L438.71,224.47 L439.11,223.68 L439.50,222.85 L439.90,221.99 L440.30,221.10 L440.69,220.18 L441.09,219.22 L441.49,218.22 L441.88,217.20 L442.28,216.13 L442.68,215.04 L443.07,213.90 L443.47,212.73 L443.87,211.53 L444.26,210.28 L444.66,209.01 L445.06,207.69 L445.45,206.34 L445.85,204.95 L446.25,203.53 L446.65,202.07 L447.04,200.57 L447.44,199.04 L447.84,197.48 L448.23,195.88 L448.63,194.25 L449.03,192.58 L449.42,190.89 L449.82,189.16 L450.22,187.41 L450.61,185.63 L451.01,183.83 L451.41,182.01 L451.80,180.16 L452.20,178.30 L452.60,176.43 L452.99,174.54 L453.39,172.65 L453.79,170.76 L454.18,168.86 L454.58,166.97 L454.98,165.09 L455.37,163.22 L455.77,161.37 L456.17,159.54 L456.56,157.74 L456.96,155.98 L457.36,154.26 L457.75,152.59 L458.15,150.97 L458.55,149.41 L458.95,147.91 L459.34,146.49 L459.74,145.14 L460.14,143.87 L460.53,142.70 L460.93,141.62 L461.33,140.63 L461.72,139.75 L462.12,138.98 L462.52,138.32 L462.91,137.78 L463.31,137.35 L463.71,137.05 L464.10,136.86 L464.50,136.80 L464.90,136.84 L465.30,136.96 L465.70,137.16 L466.10,137.43 L466.50,137.79 L466.89,138.22 L467.29,138.72 L467.69,139.30 L468.09,139.95 L468.49,140.67 L468.89,141.45 L469.29,142.31 L469.69,143.22 L470.09,144.20 L470.49,145.23 L470.89,146.31 L471.29,147.45 L471.68,148.64 L472.08,149.87 L472.48,151.15 L472.88,152.46 L473.28,153.81 L473.68,155.20 L474.08,156.61 L474.48,158.05 L474.88,159.52 L475.28,161.01 L475.68,162.52 L476.08,164.04 L476.47,165.57 L476.87,167.12 L477.27,168.68 L477.67,170.24 L478.07,171.80 L478.47,173.37 L478.87,174.93 L479.27,176.49 L479.67,178.05 L480.07,179.60 L480.47,181.14 L480.87,182.68 L481.26,184.20 L481.66,185.71 L482.06,187.21 L482.46,188.69 L482.86,190.16 L483.26,191.60 L483.66,193.04 L484.06,194.45 L484.46,195.84 L484.86,197.22 L485.26,198.57 L485.66,199.90 L486.05,201.21 L486.45,202.50 L486.85,203.77 L487.25,205.01 L487.65,206.24 L488.05,207.43 L488.45,208.61 L488.85,209.76 L489.25,210.89 L489.65,212.00 L490.05,213.08 L490.45,214.13 L490.84,215.17 L491.24,216.18 L491.64,217.17 L492.04,218.13 L492.44,219.07 L492.84,219.99 L493.24,220.89 L493.64,221.76 L494.04,222.61 L494.44,223.44 L494.84,224.24 L495.24,225.03 L495.63,225.79 L496.03,226.53 L496.43,227.24 L496.83,227.94 L497.23,228.62 L497.63,229.27 L498.03,229.91 L498.43,230.52 L498.83,231.11 L499.23,231.69 L499.63,232.24 L500.03,232.77 L500.42,233.29 L500.82,233.78 L501.22,234.26 L501.62,234.72 L502.02,235.15 L502.42,235.57 L502.82,235.98 L503.22,236.36 L503.62,236.72 L504.02,237.07 L504.42,237.40 L504.82,237.71 L505.21,238.00 L505.61,238.28 L506.01,238.54 L506.41,238.78 L506.81,239.00 L507.21,239.21 L507.61,239.40 L508.01,239.58 L508.41,239.73 L508.81,239.87 L509.21,240.00 L509.61,240.10 L510.00,240.19 L510.40,240.27 L510.80,240.33 L511.20,240.37 L511.60,240.39 L512.00,240.40 L512.40,240.38 L512.80,240.34 L513.20,240.26 L513.60,240.15 L513.99,240.02 L514.39,239.85 L514.79,239.65 L515.19,239.41 L515.59,239.15 L515.99,238.86 L516.39,238.53 L516.79,238.17 L517.19,237.78 L517.59,237.36 L517.98,236.90 L518.38,236.42 L518.78,235.89 L519.18,235.34 L519.58,234.75 L519.98,234.13 L520.38,233.47 L520.78,232.77 L521.18,232.04 L521.57,231.28 L521.97,230.48 L522.37,229.64 L522.77,228.76 L523.17,227.85 L523.57,226.89 L523.97,225.90 L524.37,224.87 L524.77,223.80 L525.17,222.69 L525.56,221.54 L525.96,220.35 L526.36,219.11 L526.76,217.84 L527.16,216.52 L527.56,215.16 L527.96,213.76 L528.36,212.31 L528.76,210.82 L529.15,209.28 L529.55,207.71 L529.95,206.08 L530.35,204.42 L530.75,202.71 L531.15,200.96 L531.55,199.16 L531.95,197.32 L532.35,195.44 L532.75,193.51 L533.14,191.55 L533.54,189.54 L533.94,187.50 L534.34,185.42 L534.74,183.30 L535.14,181.15 L535.54,178.97 L535.94,176.76 L536.34,174.52 L536.73,172.26 L537.13,169.97 L537.53,167.67 L537.93,165.35 L538.33,163.03 L538.73,160.69 L539.13,158.36 L539.53,156.02 L539.93,153.70 L540.33,151.39 L540.72,149.10 L541.12,146.83 L541.52,144.60 L541.92,142.41 L542.32,140.26 L542.72,138.16 L543.12,136.12 L543.52,134.15 L543.92,132.26 L544.31,130.44 L544.71,128.71 L545.11,127.08 L545.51,125.55 L545.91,124.12 L546.31,122.81 L546.71,121.63 L547.11,120.56 L547.51,119.63 L547.91,118.84 L548.30,118.18 L548.70,117.67 L549.10,117.30 L549.50,117.07 L549.90,117.00 L550.29,117.08 L550.69,117.32 L551.08,117.71 L551.48,118.24 L551.87,118.90 L552.27,119.70 L552.66,120.63 L553.05,121.66 L553.45,122.81 L553.84,124.07 L554.24,125.42 L554.63,126.86 L555.03,128.39 L555.42,130.00 L555.81,131.67 L556.21,133.41 L556.60,135.21 L557.00,137.06 L557.39,138.96 L557.79,140.89 L558.18,142.85 L558.57,144.84 L558.97,146.85 L559.36,148.87 L559.76,150.90 L560.15,152.92 L560.55,154.94 L560.94,156.94 L561.33,158.92 L561.73,160.88 L562.12,162.79 L562.52,164.67 L562.91,166.51 L563.31,168.28 L563.70,170.00 L564.10,171.73 L564.49,173.51 L564.89,175.34 L565.29,177.21 L565.69,179.13 L566.08,181.09 L566.48,183.08 L566.88,185.11 L567.27,187.16 L567.67,189.23 L568.07,191.32 L568.46,193.42 L568.86,195.54 L569.26,197.65 L569.66,199.78 L570.05,201.90 L570.45,204.01 L570.85,206.11 L571.24,208.20 L571.64,210.27 L572.04,212.31 L572.44,214.33 L572.83,216.32 L573.23,218.28 L573.63,220.19 L574.02,222.06 L574.42,223.89 L574.82,225.66 L575.21,227.38 L575.61,229.04 L576.01,230.63 L576.41,232.16 L576.80,233.62 L577.20,235.00 L577.59,236.30 L577.98,237.56 L578.37,238.79 L578.76,239.98 L579.15,241.15 L579.54,242.28 L579.93,243.38 L580.32,244.46 L580.71,245.52 L581.10,246.55 L581.49,247.56 L581.88,248.56 L582.27,249.54 L582.66,250.50 L583.05,251.45 L583.45,252.39 L583.84,253.32 L584.23,254.25 L584.62,255.17 L585.01,256.09 L585.40,257.00 L585.79,257.92 L586.18,258.83 L586.57,259.76 L586.96,260.69 L587.35,261.62 L587.74,262.57 L588.13,263.53 L588.52,264.50 L588.91,265.49 L589.30,266.50"/>
<path stroke="#000" d="M103.20,216.50 L103.57,220.27 L103.94,224.58 L104.31,229.04 L104.69,233.22 L105.06,236.71 L105.43,239.11 L105.80,240.00 L106.18,239.88 L106.56,239.52 L106.94,238.92 L107.32,238.06 L107.69,236.94 L108.07,235.53 L108.45,233.83 L108.83,231.83 L109.21,229.51 L109.59,226.87 L109.97,223.94 L110.35,220.75 L110.73,217.40 L111.11,214.00 L111.48,210.74 L111.86,207.83 L112.24,205.52 L112.62,204.02 L113.00,203.50 L113.40,203.99 L113.80,205.43 L114.20,207.66 L114.60,210.49 L115.00,213.70 L115.40,217.08 L115.80,220.47 L116.20,223.74 L116.60,226.79 L117.00,229.58 L117.40,232.07 L117.80,234.27 L118.20,236.16 L118.60,237.76 L119.00,239.09 L119.40,240.16 L119.80,240.97 L120.20,241.55 L120.60,241.89 L121.00,242.00 L121.40,241.90 L121.80,241.61 L122.20,241.12 L122.60,240.42 L123.00,239.52 L123.40,238.40 L123.80,237.05 L124.20,235.47 L124.60,233.64 L125.00,231.55 L125.40,229.21 L125.80,226.61 L126.20,223.76 L126.60,220.67 L127.00,217.38 L127.40,213.94 L127.80,210.43 L128.20,206.93 L128.60,203.59 L129.00,200.55 L129.40,197.96 L129.80,195.98 L130.20,194.73 L130.60,194.30 L131.00,194.57 L131.39,195.38 L131.79,196.68 L132.19,198.43 L132.58,200.56 L132.98,202.99 L133.38,205.64 L133.77,208.44 L134.17,211.32 L134.57,214.22 L134.96,217.08 L135.36,219.87 L135.76,222.55 L136.15,225.10 L136.55,227.50 L136.95,229.75 L137.35,231.83 L137.74,233.75 L138.14,235.50 L138.54,237.08 L138.93,238.51 L139.33,239.79 L139.73,240.91 L140.12,241.89 L140.52,242.73 L140.92,243.43 L141.31,244.00 L141.71,244.44 L142.11,244.75 L142.50,244.94 L142.90,245.00 L143.29,244.93 L143.69,244.70 L144.08,244.33 L144.47,243.81 L144.87,243.13 L145.26,242.30 L145.65,241.30 L146.05,240.13 L146.44,238.79 L146.84,237.27 L147.23,235.57 L147.62,233.68 L148.02,231.59 L148.41,229.31 L148.80,226.83 L149.20,224.15 L149.59,221.29 L149.98,218.25 L150.38,215.06 L150.77,211.74 L151.16,208.33 L151.56,204.87 L151.95,201.44 L152.35,198.11 L152.74,194.95 L153.13,192.05 L153.53,189.52 L153.92,187.44 L154.31,185.88 L154.71,184.92 L155.10,184.60 L155.49,184.77 L155.89,185.26 L156.28,186.07 L156.67,187.18 L157.07,188.56 L157.46,190.20 L157.85,192.05 L158.25,194.09 L158.64,196.28 L159.03,198.59 L159.43,201.00 L159.82,203.45 L160.21,205.94 L160.60,208.43 L161.00,210.91 L161.39,213.35 L161.78,215.74 L162.18,218.06 L162.57,220.31 L162.96,222.48 L163.36,224.55 L163.75,226.53 L164.14,228.41 L164.54,230.20 L164.93,231.88 L165.32,233.46 L165.72,234.94 L166.11,236.33 L166.50,237.61 L166.90,238.80 L167.29,239.90 L167.68,240.91 L168.07,241.82 L168.47,242.65 L168.86,243.40 L169.25,244.06 L169.65,244.64 L170.04,245.14 L170.43,245.56 L170.83,245.90 L171.22,246.16 L171.61,246.35 L172.01,246.46 L172.40,246.50 L172.80,246.46 L173.19,246.35 L173.59,246.16 L173.98,245.90 L174.38,245.57 L174.77,245.15 L175.17,244.66 L175.56,244.09 L175.96,243.43 L176.35,242.70 L176.75,241.88 L177.15,240.97 L177.54,239.98 L177.94,238.89 L178.33,237.71 L178.73,236.44 L179.12,235.07 L179.52,233.61 L179.91,232.04 L180.31,230.38 L180.70,228.62 L181.10,226.76 L181.50,224.80 L181.89,222.75 L182.29,220.61 L182.68,218.39 L183.08,216.09 L183.47,213.73 L183.87,211.31 L184.26,208.86 L184.66,206.40 L185.05,203.94 L185.45,201.51 L185.85,199.14 L186.24,196.85 L186.64,194.68 L187.03,192.66 L187.43,190.83 L187.82,189.22 L188.22,187.85 L188.61,186.75 L189.01,185.95 L189.40,185.46 L189.80,185.30 L190.20,185.38 L190.59,185.64 L190.99,186.05 L191.39,186.63 L191.78,187.36 L192.18,188.24 L192.58,189.26 L192.97,190.40 L193.37,191.66 L193.77,193.02 L194.16,194.47 L194.56,196.00 L194.96,197.60 L195.35,199.25 L195.75,200.95 L196.15,202.68 L196.54,204.43 L196.94,206.19 L197.34,207.95 L197.73,209.71 L198.13,211.46 L198.53,213.18 L198.92,214.88 L199.32,216.55 L199.72,218.19 L200.11,219.79 L200.51,221.34 L200.91,222.85 L201.30,224.31 L201.70,225.73 L202.10,227.10 L202.50,228.41 L202.89,229.68 L203.29,230.89 L203.69,232.05 L204.08,233.16 L204.48,234.23 L204.88,235.23 L205.27,236.19 L205.67,237.11 L206.07,237.97 L206.46,238.78 L206.86,239.55 L207.26,240.27 L207.65,240.94 L208.05,241.57 L208.45,242.15 L208.84,242.69 L209.24,243.19 L209.64,243.65 L210.03,244.06 L210.43,244.43 L210.83,244.76 L211.22,245.06 L211.62,245.31 L212.02,245.52 L212.41,245.69 L212.81,245.83 L213.21,245.92 L213.60,245.98 L214.00,246.00 L214.40,245.98 L214.80,245.93 L215.20,245.84 L215.59,245.71 L215.99,245.55 L216.39,245.35 L216.79,245.11 L217.19,244.84 L217.59,244.53 L217.98,244.18 L218.38,243.79 L218.78,243.37 L219.18,242.90 L219.58,242.40 L219.98,241.85 L220.37,241.26 L220.77,240.64 L221.17,239.96 L221.57,239.25 L221.97,238.49 L222.37,237.68 L222.77,236.84 L223.16,235.94 L223.56,235.00 L223.96,234.01 L224.36,232.97 L224.76,231.89 L225.16,230.76 L225.55,229.58 L225.95,228.35 L226.35,227.07 L226.75,225.75 L227.15,224.38 L227.55,222.97 L227.94,221.51 L228.34,220.01 L228.74,218.47 L229.14,216.89 L229.54,215.28 L229.94,213.64 L230.33,211.98 L230.73,210.29 L231.13,208.59 L231.53,206.89 L231.93,205.18 L232.33,203.48 L232.73,201.80 L233.12,200.14 L233.52,198.51 L233.92,196.93 L234.32,195.41 L234.72,193.95 L235.12,192.57 L235.51,191.29 L235.91,190.10 L236.31,189.02 L236.71,188.06 L237.11,187.24 L237.51,186.55 L237.90,186.01 L238.30,185.62 L238.70,185.38 L239.10,185.30 L239.50,185.34 L239.90,185.46 L240.30,185.67 L240.70,185.95 L241.09,186.31 L241.49,186.75 L241.89,187.26 L242.29,187.85 L242.69,188.50 L243.09,189.22 L243.49,190.00 L243.89,190.85 L244.29,191.74 L244.68,192.70 L245.08,193.70 L245.48,194.74 L245.88,195.82 L246.28,196.95 L246.68,198.10 L247.08,199.28 L247.48,200.49 L247.88,201.72 L248.28,202.97 L248.67,204.23 L249.07,205.50 L249.47,206.78 L249.87,208.06 L250.27,209.35 L250.67,210.63 L251.07,211.91 L251.47,213.19 L251.87,214.46 L252.26,215.71 L252.66,216.96 L253.06,218.19 L253.46,219.41 L253.86,220.60 L254.26,221.79 L254.66,222.95 L255.06,224.09 L255.46,225.21 L255.85,226.31 L256.25,227.39 L256.65,228.45 L257.05,229.48 L257.45,230.48 L257.85,231.47 L258.25,232.43 L258.65,233.36 L259.05,234.27 L259.44,235.16 L259.84,236.02 L260.24,236.85 L260.64,237.66 L261.04,238.45 L261.44,239.21 L261.84,239.95 L262.24,240.66 L262.64,241.35 L263.03,242.01 L263.43,242.65 L263.83,243.27 L264.23,243.87 L264.63,244.44 L265.03,244.99 L265.43,245.51 L265.83,246.02 L266.23,246.50 L266.62,246.96 L267.02,247.40 L267.42,247.82 L267.82,248.22 L268.22,248.59 L268.62,248.95 L269.02,249.28 L269.42,249.60 L269.82,249.89 L270.22,250.17 L270.61,250.42 L271.01,250.66 L271.41,250.87 L271.81,251.07 L272.21,251.25 L272.61,251.41 L273.01,251.55 L273.41,251.67 L273.81,251.77 L274.20,251.85 L274.60,251.92 L275.00,251.96 L275.40,251.99 L275.80,252.00 L276.20,251.99 L276.60,251.97 L277.00,251.92 L277.40,251.86 L277.80,251.78 L278.20,251.69 L278.60,251.57 L279.00,251.44 L279.40,251.29 L279.80,251.13 L280.20,250.94 L280.60,250.74 L281.00,250.52 L281.40,250.28 L281.80,250.02 L282.20,249.74 L282.60,249.45 L283.00,249.13 L283.40,248.80 L283.80,248.44 L284.20,248.07 L284.60,247.68 L285.00,247.26 L285.40,246.83 L285.80,246.38 L286.20,245.90 L286.60,245.41 L287.00,244.89 L287.40,244.35 L287.80,243.79 L288.20,243.21 L288.60,242.61 L289.00,241.98 L289.40,241.34 L289.80,240.66 L290.20,239.97 L290.60,239.25 L291.00,238.51 L291.40,237.75 L291.80,236.96 L292.20,236.16 L292.60,235.32 L293.00,234.47 L293.40,233.59 L293.80,232.69 L294.20,231.76 L294.60,230.81 L295.00,229.84 L295.40,228.85 L295.80,227.84 L296.20,226.81 L296.60,225.75 L297.00,224.68 L297.40,223.59 L297.80,222.48 L298.20,221.36 L298.60,220.22 L299.00,219.07 L299.40,217.90 L299.80,216.73 L300.20,215.55 L300.60,214.36 L301.00,213.16 L301.40,211.97 L301.80,210.78 L302.20,209.59 L302.60,208.40 L303.00,207.23 L303.40,206.07 L303.80,204.92 L304.20,203.79 L304.60,202.69 L305.00,201.61 L305.40,200.56 L305.80,199.55 L306.20,198.57 L306.60,197.64 L307.00,196.74 L307.40,195.90 L307.80,195.11 L308.20,194.38 L308.60,193.70 L309.00,193.09 L309.40,192.54 L309.80,192.06 L310.20,191.65 L310.60,191.31 L311.00,191.04 L311.40,190.85 L311.80,190.74 L312.20,190.70 L312.59,190.72 L312.99,190.79 L313.38,190.91 L313.77,191.06 L314.17,191.26 L314.56,191.50 L314.95,191.78 L315.34,192.09 L315.74,192.45 L316.13,192.84 L316.52,193.26 L316.92,193.72 L317.31,194.21 L317.70,194.73 L318.10,195.28 L318.49,195.86 L318.88,196.46 L319.28,197.09 L319.67,197.75 L320.06,198.43 L320.46,199.13 L320.85,199.85 L321.24,200.60 L321.63,201.36 L322.03,202.14 L322.42,202.93 L322.81,203.74 L323.21,204.56 L323.60,205.40 L323.99,206.25 L324.39,207.10 L324.78,207.97 L325.17,208.84 L325.57,209.72 L325.96,210.60 L326.35,211.49 L326.74,212.38 L327.14,213.28 L327.53,214.17 L327.92,215.06 L328.32,215.95 L328.71,216.83 L329.10,217.71 L329.50,218.59 L329.89,219.45 L330.28,220.23 L330.68,221.07 L331.07,221.90 L331.46,222.71 L331.86,223.52 L332.25,224.31 L332.64,225.09 L333.03,225.85 L333.43,226.59 L333.82,227.32 L334.21,228.04 L334.61,228.74 L335.00,229.43 L335.38,230.09 L335.77,230.74 L336.15,231.38 L336.54,232.01 L336.92,232.63 L337.31,233.25 L337.69,233.87 L338.08,234.48 L338.46,235.08 L338.85,235.68 L339.23,236.27 L339.62,236.86 L340.00,237.44 L340.38,238.01 L340.77,238.58 L341.15,239.14 L341.54,239.69 L341.92,240.24 L342.31,240.78 L342.69,241.33 L343.08,241.86 L343.46,242.40 L343.85,242.93 L344.23,243.46 L344.62,243.99 L345.00,244.52 L345.38,245.05 L345.77,245.58 L346.15,246.11 L346.54,246.63 L346.92,247.15 L347.31,247.66 L347.69,248.16 L348.08,248.65 L348.46,249.12 L348.85,249.57 L349.23,250.00 L349.62,250.42 L350.00,250.81 L350.38,251.19 L350.77,251.54 L351.15,251.88 L351.54,252.20 L351.92,252.50 L352.31,252.79 L352.69,253.06 L353.08,253.32 L353.46,253.56 L353.85,253.79 L354.23,254.01 L354.62,254.22 L355.00,254.41 L355.39,254.61 L355.79,254.79 L356.18,254.97 L356.58,255.15 L356.97,255.31 L357.37,255.47 L357.76,255.62 L358.16,255.77 L358.55,255.91 L358.95,256.04 L359.34,256.16 L359.74,256.27 L360.13,256.37 L360.53,256.45 L360.92,256.52 L361.32,256.58 L361.71,256.62 L362.11,256.64 L362.50,256.65 L362.89,256.63 L363.29,256.60 L363.68,256.56 L364.08,256.49 L364.47,256.41 L364.87,256.32 L365.26,256.21 L365.66,256.09 L366.05,255.95 L366.45,255.81 L366.84,255.65 L367.24,255.48 L367.63,255.31 L368.03,255.12 L368.42,254.93 L368.82,254.73 L369.21,254.52 L369.61,254.30 L370.00,254.07 L370.38,253.83 L370.77,253.57 L371.15,253.30 L371.54,253.02 L371.92,252.71 L372.31,252.39 L372.69,252.05 L373.08,251.70 L373.46,251.33 L373.85,250.94 L374.23,250.54 L374.62,250.12 L375.00,249.69 L375.39,249.24 L375.78,248.77 L376.16,248.29 L376.55,247.79 L376.94,247.28 L377.33,246.75 L377.72,246.20 L378.11,245.64 L378.49,245.05 L378.88,244.45 L379.27,243.83 L379.66,243.19 L380.05,242.53 L380.44,241.84 L380.82,241.13 L381.21,240.39 L381.60,239.63 L381.98,238.87 L382.36,238.08 L382.73,237.27 L383.11,236.44 L383.49,235.61 L383.87,234.77 L384.24,233.92 L384.62,233.09 L385.00,232.26 L385.38,231.43 L385.77,230.62 L386.15,229.82 L386.54,229.04 L386.92,228.27 L387.31,227.52 L387.69,226.77 L388.08,226.03 L388.46,225.30 L388.85,224.57 L389.23,223.83 L389.62,223.10 L390.00,222.37 L390.38,221.64 L390.77,220.91 L391.15,220.17 L391.54,219.43 L391.92,218.70 L392.31,217.96 L392.69,217.22 L393.08,216.48 L393.46,215.75 L393.85,215.01 L394.23,214.27 L394.62,213.54 L395.00,212.80 L395.38,212.07 L395.77,211.34 L396.15,210.61 L396.54,209.88 L396.92,209.15 L397.31,208.42 L397.69,207.70 L398.08,206.98 L398.46,206.26 L398.85,205.54 L399.23,204.83 L399.62,204.12 L400.00,203.41 L400.38,202.70 L400.77,202.00 L401.15,201.30 L401.54,200.61 L401.92,199.92 L402.31,199.25 L402.69,198.59 L403.08,197.94 L403.46,197.31 L403.85,196.69 L404.23,196.09 L404.62,195.52 L405.00,194.96 L405.38,194.42 L405.77,193.90 L406.15,193.40 L406.54,192.91 L406.92,192.45 L407.31,192.02 L407.69,191.61 L408.08,191.22 L408.46,190.87 L408.85,190.55 L409.23,190.26 L409.62,189.99 L410.00,189.76 L410.39,189.54 L410.79,189.35 L411.18,189.19 L411.57,189.04 L411.96,188.90 L412.36,188.78 L412.75,188.68 L413.14,188.59 L413.54,188.51 L413.93,188.45 L414.32,188.39 L414.71,188.36 L415.11,188.33 L415.50,188.32 L415.88,188.33 L416.25,188.34 L416.62,188.37 L417.00,188.41 L417.38,188.46 L417.75,188.53 L418.12,188.61 L418.50,188.70 L418.88,188.81 L419.25,188.94 L419.62,189.09 L420.00,189.27 L420.38,189.47 L420.77,189.71 L421.15,189.98 L421.54,190.28 L421.92,190.61 L422.31,190.96 L422.69,191.34 L423.08,191.74 L423.46,192.15 L423.85,192.58 L424.23,193.01 L424.62,193.44 L425.00,193.88 L425.38,194.32 L425.77,194.77 L426.15,195.21 L426.54,195.66 L426.92,196.12 L427.31,196.58 L427.69,197.05 L428.08,197.53 L428.46,198.02 L428.85,198.52 L429.23,199.03 L429.62,199.56 L430.00,200.10 L430.40,200.68 L430.80,201.28 L431.20,201.90 L431.60,202.53 L432.00,203.18 L432.40,203.84 L432.80,204.51 L433.20,205.19 L433.60,205.87 L434.00,206.57 L434.40,207.27 L434.80,207.98 L435.20,208.69 L435.60,209.40 L436.00,210.11 L436.40,210.82 L436.80,211.53 L437.20,212.23 L437.60,212.93 L438.00,213.62 L438.40,214.31 L438.80,214.99 L439.20,215.65 L439.60,216.31 L440.00,216.95 L440.38,217.56 L440.77,218.16 L441.15,218.74 L441.54,219.32 L441.92,219.89 L442.31,220.45 L442.69,221.01 L443.08,221.56 L443.46,222.11 L443.85,222.65 L444.23,223.19 L444.62,223.73 L445.00,224.26 L445.38,224.78 L445.77,225.30 L446.15,225.82 L446.54,226.33 L446.92,226.84 L447.31,227.34 L447.69,227.84 L448.08,228.34 L448.46,228.83 L448.85,229.32 L449.23,229.81 L449.62,230.30 L450.00,230.79 L450.38,231.28 L450.77,231.76 L451.15,232.25 L451.54,232.73 L451.92,233.21 L452.31,233.69 L452.69,234.16 L453.08,234.64 L453.46,235.11 L453.85,235.58 L454.23,236.05 L454.62,236.52 L455.00,236.98 L455.38,237.44 L455.77,237.90 L456.15,238.36 L456.54,238.81 L456.92,239.26 L457.31,239.71 L457.69,240.16 L458.08,240.60 L458.46,241.04 L458.85,241.48 L459.23,241.91 L459.62,242.33 L460.00,242.76 L460.38,243.17 L460.77,243.59 L461.15,244.00 L461.54,244.40 L461.92,244.81 L462.31,245.21 L462.69,245.61 L463.08,246.01 L463.46,246.41 L463.85,246.82 L464.23,247.22 L464.62,247.63 L465.00,248.04 L465.38,248.45 L465.77,248.86 L466.15,249.28 L466.54,249.70 L466.92,250.12 L467.31,250.54 L467.69,250.96 L468.08,251.38 L468.46,251.80 L468.85,252.22 L469.23,252.63 L469.62,253.05 L470.00,253.46 L470.40,253.90 L470.80,254.33 L471.20,254.77 L471.60,255.20 L472.00,255.64 L472.40,256.07 L472.80,256.51 L473.20,256.94 L473.60,257.37 L474.00,257.80 L474.40,258.22 L474.80,258.64 L475.20,259.06 L475.60,259.47 L476.00,259.87 L476.40,260.27 L476.80,260.66 L477.20,261.04 L477.60,261.41 L478.00,261.77 L478.40,262.12 L478.80,262.46 L479.20,262.79 L479.60,263.11 L480.00,263.42 L480.40,263.72 L480.80,264.02 L481.20,264.30 L481.60,264.58 L482.00,264.85 L482.40,265.12 L482.80,265.38 L483.20,265.63 L483.60,265.88 L484.00,266.13 L484.40,266.37 L484.80,266.60 L485.20,266.83 L485.60,267.06 L486.00,267.28 L486.40,267.50 L486.80,267.71 L487.20,267.92 L487.60,268.12 L488.00,268.32 L488.40,268.52 L488.80,268.72 L489.20,268.91 L489.60,269.10 L490.00,269.29 L490.40,269.47 L490.80,269.66 L491.20,269.84 L491.60,270.02 L492.00,270.20 L492.40,270.38 L492.80,270.55 L493.20,270.73 L493.60,270.90 L494.00,271.07 L494.40,271.23 L494.80,271.39 L495.20,271.55 L495.60,271.70 L496.00,271.85 L496.40,271.99 L496.80,272.12 L497.20,272.25 L497.60,272.37 L498.00,272.49 L498.40,272.60 L498.80,272.70 L499.20,272.79 L499.60,272.88 L500.00,272.96 L500.40,273.04 L500.79,273.11 L501.19,273.18 L501.58,273.25 L501.98,273.31 L502.37,273.38 L502.77,273.44 L503.16,273.50 L503.56,273.56 L503.95,273.62 L504.35,273.68 L504.74,273.74 L505.14,273.80 L505.53,273.85 L505.93,273.91 L506.33,273.96 L506.72,274.02 L507.12,274.07 L507.51,274.12 L507.91,274.17 L508.30,274.21 L508.70,274.26 L509.09,274.30 L509.49,274.35 L509.88,274.39 L510.28,274.43 L510.67,274.47 L511.07,274.50 L511.47,274.54 L511.86,274.57 L512.26,274.60 L512.65,274.63 L513.05,274.65 L513.44,274.67 L513.84,274.70 L514.23,274.71 L514.63,274.73 L515.02,274.74 L515.42,274.76 L515.81,274.76 L516.21,274.77 L516.60,274.77 L517.00,274.77 L517.39,274.76 L517.79,274.76 L518.18,274.74 L518.58,274.73 L518.97,274.71 L519.36,274.68 L519.76,274.65 L520.15,274.62 L520.55,274.58 L520.94,274.54 L521.33,274.50 L521.73,274.45 L522.12,274.40 L522.52,274.35 L522.91,274.30 L523.30,274.24 L523.70,274.18 L524.09,274.11 L524.48,274.05 L524.88,273.98 L525.27,273.91 L525.67,273.84 L526.06,273.77 L526.45,273.70 L526.85,273.62 L527.24,273.55 L527.64,273.47 L528.03,273.39 L528.42,273.31 L528.82,273.23 L529.21,273.14 L529.61,273.06 L530.00,272.97 L530.40,272.87 L530.80,272.77 L531.20,272.66 L531.60,272.55 L532.00,272.43 L532.40,272.31 L532.80,272.18 L533.20,272.04 L533.60,271.90 L534.00,271.75 L534.40,271.60 L534.80,271.45 L535.20,271.29 L535.60,271.13 L536.00,270.97 L536.40,270.80 L536.80,270.64 L537.20,270.47 L537.60,270.30 L538.00,270.13 L538.40,269.97 L538.80,269.80 L539.20,269.64 L539.60,269.47 L540.00,269.31 L540.40,269.14 L540.80,268.98 L541.20,268.82 L541.60,268.65 L542.00,268.49 L542.40,268.32 L542.80,268.16 L543.20,267.99 L543.60,267.82 L544.00,267.66 L544.40,267.49 L544.80,267.32 L545.20,267.15 L545.60,266.97 L546.00,266.80 L546.40,266.62 L546.80,266.45 L547.20,266.27 L547.60,266.09 L548.00,265.91 L548.40,265.73 L548.80,265.54 L549.20,265.36 L549.60,265.17 L550.00,264.98 L550.40,264.79 L550.80,264.60 L551.20,264.40 L551.60,264.21 L552.00,264.01 L552.40,263.80 L552.80,263.60 L553.20,263.40 L553.60,263.19 L554.00,262.98 L554.40,262.77 L554.80,262.56 L555.20,262.35 L555.60,262.14 L556.00,261.92 L556.40,261.71 L556.80,261.50 L557.20,261.29 L557.60,261.07 L558.00,260.86 L558.40,260.65 L558.80,260.44 L559.20,260.23 L559.60,260.02 L560.00,259.81 L560.40,259.60 L560.80,259.39 L561.20,259.19 L561.60,258.98 L562.00,258.78 L562.40,258.57 L562.80,258.37 L563.20,258.16 L563.60,257.96 L564.00,257.75 L564.40,257.55 L564.80,257.34 L565.20,257.14 L565.60,256.93 L566.00,256.73 L566.40,256.52 L566.80,256.31 L567.20,256.10 L567.60,255.89 L568.00,255.67 L568.40,255.46 L568.80,255.24 L569.20,255.02 L569.60,254.80 L570.00,254.58 L570.40,254.36 L570.80,254.13 L571.20,253.90 L571.60,253.67 L572.00,253.44 L572.40,253.21 L572.80,252.97 L573.20,252.73 L573.60,252.49 L574.00,252.25 L574.40,252.01 L574.80,251.77 L575.20,251.53 L575.60,251.28 L576.00,251.04 L576.40,250.79 L576.80,250.55 L577.20,250.30 L577.60,250.06 L578.00,249.81 L578.40,249.57 L578.80,249.32 L579.20,249.08 L579.60,248.83 L580.00,248.59 L580.39,248.36 L580.77,248.12 L581.16,247.89 L581.55,247.66 L581.94,247.43 L582.33,247.20 L582.71,246.97 L583.10,246.73 L583.49,246.50 L583.88,246.27 L584.26,246.04 L584.65,245.80 L585.04,245.58 L585.42,245.35 L585.81,245.13 L586.20,244.91 L586.59,244.71 L586.97,244.52 L587.36,244.34 L587.75,244.18 L588.14,244.04 L588.52,243.91 L588.91,243.80 L589.30,243.70"/>
</g>
<path fill="none" stroke="#000" stroke-width="1.8" d="M70.5,336.94 h9.6 M589.3,336.94 h-9.6 M70.5,319.68 h9.6 M589.3,319.68 h-9.6 M70.5,302.42 h9.6 M589.3,302.42 h-9.6 M70.5,285.16 h9.6 M589.3,285.16 h-9.6 M70.5,267.90 h18.2 M589.3,267.90 h-18.2 M70.5,250.64 h9.6 M589.3,250.64 h-9.6 M70.5,233.38 h9.6 M589.3,233.38 h-9.6 M70.5,216.12 h9.6 M589.3,216.12 h-9.6 M70.5,198.86 h9.6 M589.3,198.86 h-9.6 M70.5,181.60 h18.2 M589.3,181.60 h-18.2 M70.5,164.34 h9.6 M589.3,164.34 h-9.6 M70.5,147.08 h9.6 M589.3,147.08 h-9.6 M70.5,129.82 h9.6 M589.3,129.82 h-9.6 M70.5,112.56 h9.6 M589.3,112.56 h-9.6 M70.5,95.30 h18.2 M589.3,95.30 h-18.2 M70.5,78.04 h9.6 M589.3,78.04 h-9.6 M70.5,60.78 h9.6 M589.3,60.78 h-9.6 M70.5,43.52 h9.6 M589.3,43.52 h-9.6 M70.5,26.26 h9.6 M589.3,26.26 h-9.6 M135.35,354.2 v-9.0 M135.35,9.0 v9.0 M200.20,354.2 v-17.8 M200.20,9.0 v17.8 M265.05,354.2 v-9.0 M265.05,9.0 v9.0 M329.90,354.2 v-17.8 M329.90,9.0 v17.8 M394.75,354.2 v-9.0 M394.75,9.0 v9.0 M459.60,354.2 v-17.8 M459.60,9.0 v17.8 M524.45,354.2 v-9.0 M524.45,9.0 v9.0"/>
<rect x="70.5" y="9.0" width="518.8" height="345.2" fill="none" stroke="#000" stroke-width="2.6"/>
<g class="sans" font-size="24.5" fill="#000"><text x="69" y="363.2" text-anchor="end">0</text><text x="69" y="276.9" text-anchor="end">0.2</text><text x="69" y="190.6" text-anchor="end">0.4</text><text x="69" y="104.3" text-anchor="end">0.6</text><text x="69" y="18.0" text-anchor="end">0.8</text><text x="70.5" y="380.8" text-anchor="middle">0</text><text x="200.2" y="380.8" text-anchor="middle">0.2</text><text x="329.9" y="380.8" text-anchor="middle">0.4</text><text x="459.6" y="380.8" text-anchor="middle">0.6</text><text x="589.3" y="380.8" text-anchor="middle">0.8</text></g>
<g class="serif" fill="#000"><text x="274.3" y="412" font-size="34" font-style="italic">F</text><text transform="translate(303.6,412.3) scale(0.96,1.04)" font-size="34">[THz]</text></g>
<g class="serif" transform="translate(25,323.3) rotate(-90)" fill="#000">
<text transform="translate(2.3,0.5)" font-size="36" font-style="italic">P</text>
<text transform="translate(24.7,8.5) scale(1.049,1)" font-size="29" font-style="italic">absorbed</text>
<text transform="translate(160,0.5)" font-size="36" font-style="italic">P</text>
<text transform="translate(183.5,8.5) scale(1.02,1)" font-size="29" font-style="italic">incident</text>
</g>
<line x1="0.2" y1="171.2" x2="25.6" y2="180.1" stroke="#000" stroke-width="1.7"/>
<g class="serif" font-size="23.8">
<text x="337.5" y="42" fill="#000">Antenna geometry from</text>
<text x="390" y="66.5" fill="#000">Figure 1a</text>
<text x="390" y="93" fill="#0000ff">Figure 1b</text>
<text x="390" y="118" fill="#00ff00">Figure 1c</text>
</g>
<g stroke-width="2.8" stroke-linecap="round">
<line x1="338" y1="59.5" x2="381" y2="59.5" stroke="#000"/>
<line x1="338" y1="84.8" x2="381" y2="84.8" stroke="#0000ff"/>
<line x1="338" y1="110" x2="381" y2="110" stroke="#00ff00"/>
</g>
</svg>
</body></html>
